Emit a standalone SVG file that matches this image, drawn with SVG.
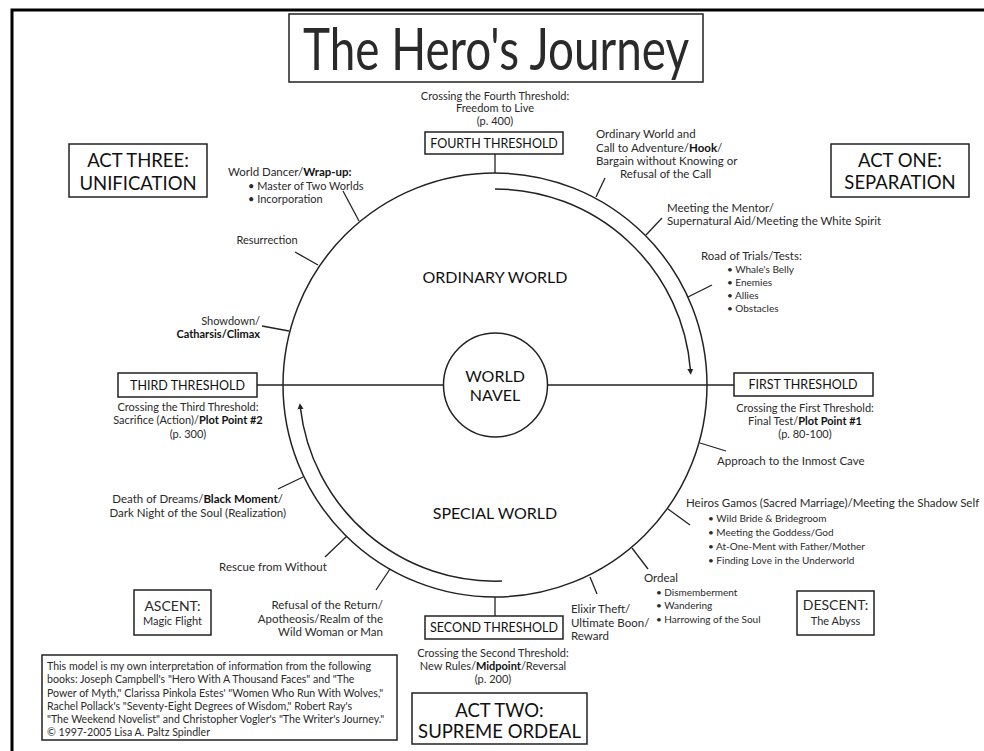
<svg xmlns="http://www.w3.org/2000/svg" width="984" height="751" viewBox="0 0 984 751">
<style>
text{font-family:Lato,"Open Sans","Liberation Sans",sans-serif;fill:#2a2a2a}
.s{font-size:11px}
.h{font-size:11.5px}
.b{font-size:10px}
.fn{font-size:10.6px}
.bd{font-weight:bold;fill:#111}
.c{text-anchor:middle}
.e{text-anchor:end}
.box{fill:#fff;stroke:#222;stroke-width:1.5}
.ln{fill:none;stroke:#222;stroke-width:1.5}
.tk{stroke:#222;stroke-width:1.3}
.act{font-size:18.5px;text-anchor:middle;fill:#111}
.th{font-size:12.5px;text-anchor:middle;fill:#111}
.big{font-size:16px;text-anchor:middle;fill:#111}
</style>
<defs>
<marker id="ah" viewBox="0 0 10 10" refX="2" refY="5" markerWidth="6" markerHeight="7" markerUnits="userSpaceOnUse" orient="auto">
<path d="M0,0 L10,5 L0,10 z" fill="#222"/>
</marker>
</defs>
<rect width="984" height="751" fill="#fff"/>
<path d="M12 751 V10 H984" fill="none" stroke="#000" stroke-width="3"/>

<g id="title">
<rect class="box" x="289" y="14" width="414" height="68"/>
<text x="496" y="70" font-size="58" text-anchor="middle" textLength="386" lengthAdjust="spacingAndGlyphs" fill="#111">The Hero's Journey</text>
</g>

<g id="circles">
<circle class="ln" cx="495" cy="385" r="212"/>
<circle id="world-navel" class="ln" cx="495.5" cy="385" r="52"/>
<text class="big" x="495" y="382" font-size="15">WORLD</text>
<text class="big" x="495" y="401" font-size="15">NAVEL</text>
<text class="big" x="495" y="283">ORDINARY WORLD</text>
<text class="big" x="495" y="519">SPECIAL WORLD</text>
</g>

<g id="connectors">
<line class="ln" x1="257" y1="385" x2="443.5" y2="385"/>
<line class="ln" x1="547.5" y1="385" x2="734" y2="385"/>
<line class="tk" x1="495" y1="154" x2="495" y2="173"/>
<line class="tk" x1="495" y1="597" x2="495" y2="616"/>
<path class="ln" d="M495 189 A196 196 0 0 1 690.4 370" marker-end="url(#ah)"/>
<path class="ln" d="M502 581 A196 196 0 0 1 300.4 408" marker-end="url(#ah)"/>
<line class="tk" x1="343" y1="191" x2="359" y2="221"/>
<line class="tk" x1="295" y1="252" x2="318" y2="265"/>
<line class="tk" x1="262" y1="326" x2="289" y2="331"/>
<line class="tk" x1="605" y1="178" x2="596" y2="197"/>
<line class="tk" x1="662" y1="218" x2="646" y2="235"/>
<line class="tk" x1="712" y1="285" x2="688" y2="297"/>
<line class="tk" x1="700" y1="443" x2="726" y2="451"/>
<line class="tk" x1="668" y1="509" x2="690" y2="525"/>
<line class="tk" x1="632" y1="548" x2="648" y2="569"/>
<line class="tk" x1="590" y1="577" x2="597" y2="594"/>
<line class="tk" x1="390" y1="569" x2="376" y2="590"/>
<line class="tk" x1="347" y1="536" x2="325" y2="557"/>
<line class="tk" x1="303" y1="477" x2="278" y2="489"/>
</g>

<g id="fourth-threshold">
<text class="s c" x="495" y="100">Crossing the Fourth Threshold:</text>
<text class="s c" x="495" y="112">Freedom to Live</text>
<text class="s c" x="495" y="125">(p. 400)</text>
<rect class="box" x="425" y="132" width="138" height="22"/>
<text class="th" x="494" y="148">FOURTH THRESHOLD</text>
</g>

<g id="act-three">
<rect class="box" x="69" y="144" width="138" height="53"/>
<text class="act" x="138" y="167">ACT THREE:</text>
<text class="act" x="138" y="190">UNIFICATION</text>
</g>

<g id="act-one">
<rect class="box" x="831" y="144" width="138" height="53"/>
<text class="act" x="900" y="167">ACT ONE:</text>
<text class="act" x="900" y="189">SEPARATION</text>
</g>

<g id="world-dancer">
<text class="h" x="228" y="176">World Dancer/<tspan class="bd">Wrap-up:</tspan></text>
<text class="s" x="248" y="190">• Master of Two Worlds</text>
<text class="s" x="248" y="203">• Incorporation</text>
</g>

<g id="resurrection">
<text class="s c" x="267" y="244">Resurrection</text>
</g>

<g id="showdown">
<text class="s e" x="260" y="325">Showdown/</text>
<text class="s e bd" x="260" y="338">Catharsis/Climax</text>
</g>

<g id="ordinary-world-call">
<text class="h" x="596" y="138">Ordinary World and</text>
<text class="h" x="596" y="152">Call to Adventure/<tspan class="bd">Hook</tspan>/</text>
<text class="h" x="596" y="165">Bargain without Knowing or</text>
<text class="h" x="620" y="178">Refusal of the Call</text>
</g>

<g id="mentor">
<text class="h" x="667" y="212">Meeting the Mentor/</text>
<text class="h" x="667" y="225">Supernatural Aid/Meeting the White Spirit</text>
</g>

<g id="road-of-trials">
<text class="h" x="701" y="260">Road of Trials/Tests:</text>
<text class="b" x="727" y="273">• Whale's Belly</text>
<text class="b" x="727" y="286">• Enemies</text>
<text class="b" x="727" y="299">• Allies</text>
<text class="b" x="727" y="312">• Obstacles</text>
</g>

<g id="first-threshold">
<rect class="box" x="734" y="373" width="139" height="23"/>
<text class="th" x="803" y="389">FIRST THRESHOLD</text>
<text class="s c" x="805" y="412">Crossing the First Threshold:</text>
<text class="s c" x="805" y="425">Final Test/<tspan class="bd">Plot Point #1</tspan></text>
<text class="s c" x="805" y="438">(p. 80-100)</text>
</g>

<g id="approach">
<text class="h" x="717" y="465">Approach to the Inmost Cave</text>
</g>

<g id="heiros-gamos">
<text class="h" x="686" y="507">Heiros Gamos (Sacred Marriage)/Meeting the Shadow Self</text>
<text class="b" x="708" y="522">• Wild Bride &amp; Bridegroom</text>
<text class="b" x="708" y="536">• Meeting the Goddess/God</text>
<text class="b" x="708" y="550">• At-One-Ment with Father/Mother</text>
<text class="b" x="708" y="564">• Finding Love in the Underworld</text>
</g>

<g id="ordeal">
<text class="h" x="644" y="582">Ordeal</text>
<text class="b" x="656" y="596">• Dismemberment</text>
<text class="b" x="656" y="609">• Wandering</text>
<text class="b" x="656" y="623">• Harrowing of the Soul</text>
</g>

<g id="elixir">
<text class="h" x="571" y="613">Elixir Theft/</text>
<text class="h" x="571" y="627">Ultimate Boon/</text>
<text class="h" x="571" y="640">Reward</text>
</g>

<g id="descent">
<rect class="box" x="797" y="591" width="77" height="44"/>
<text x="835.5" y="610" font-size="14" text-anchor="middle" fill="#111">DESCENT:</text>
<text class="s c" x="835.5" y="625">The Abyss</text>
</g>

<g id="second-threshold">
<rect class="box" x="425" y="616" width="138" height="23"/>
<text class="th" x="494" y="632">SECOND THRESHOLD</text>
<text class="s c" x="493" y="657">Crossing the Second Threshold:</text>
<text class="s c" x="493" y="670">New Rules/<tspan class="bd">Midpoint</tspan>/Reversal</text>
<text class="s c" x="493" y="683">(p. 200)</text>
</g>

<g id="act-two">
<rect class="box" x="412" y="693" width="175" height="51"/>
<text class="act" x="499.5" y="717">ACT TWO:</text>
<text class="act" x="499.5" y="738">SUPREME ORDEAL</text>
</g>

<g id="refusal-return">
<text class="h e" x="383" y="609">Refusal of the Return/</text>
<text class="h e" x="383" y="623">Apotheosis/Realm of the</text>
<text class="h e" x="383" y="636">Wild Woman or Man</text>
</g>

<g id="rescue">
<text class="h c" x="273" y="571">Rescue from Without</text>
</g>

<g id="ascent">
<rect class="box" x="134" y="590" width="77" height="45"/>
<text x="172.5" y="611" font-size="14" text-anchor="middle" fill="#111">ASCENT:</text>
<text class="s c" x="172.5" y="625">Magic Flight</text>
</g>

<g id="death-of-dreams">
<text class="h e" x="283" y="503">Death of Dreams/<tspan class="bd">Black Moment</tspan>/</text>
<text class="h e" x="286" y="517">Dark Night of the Soul (Realization)</text>
</g>

<g id="third-threshold">
<rect class="box" x="118" y="373" width="139" height="24"/>
<text class="th" x="187.5" y="390">THIRD THRESHOLD</text>
<text class="s c" x="188" y="411">Crossing the Third Threshold:</text>
<text class="s c" x="188" y="424">Sacrifice (Action)/<tspan class="bd">Plot Point #2</tspan></text>
<text class="s c" x="188" y="438">(p. 300)</text>
</g>

<g id="footnote">
<rect class="box" x="42" y="655" width="355" height="85"/>
<text class="fn" x="47" y="670">This model is my own interpretation of information from the following</text>
<text class="fn" x="47" y="683">books: Joseph Campbell's "Hero With A Thousand Faces" and "The</text>
<text class="fn" x="47" y="696.5">Power of Myth," Clarissa Pinkola Estes' "Women Who Run With Wolves,"</text>
<text class="fn" x="47" y="709.5">Rachel Pollack's "Seventy-Eight Degrees of Wisdom," Robert Ray's</text>
<text class="fn" x="47" y="723">"The Weekend Novelist" and Christopher Vogler's "The Writer's Journey."</text>
<text class="fn" x="47" y="736">© 1997-2005 Lisa A. Paltz Spindler</text>
</g>
</svg>
